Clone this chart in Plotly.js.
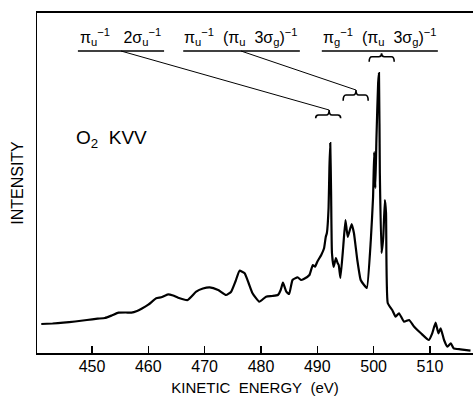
<!DOCTYPE html>
<html>
<head>
<meta charset="utf-8">
<script src="https://cdn.plot.ly/plotly-3.0.1.min.js"></script>
<style>html,body{margin:0;padding:0;background:#fff;}#chart{width:473px;height:396px;}</style>
</head>
<body>
<div id="chart"></div>
<script>
// Kinetic energy (eV) and intensity (arbitrary units)
const energy = [441.0,443.0,444.9,447.0,449.1,451.0,452.3,453.5,454.7,456.0,457.0,458.0,458.8,460.0,461.4,462.3,463.5,464.4,465.3,467.0,468.5,469.7,470.9,472.4,473.8,474.7,475.5,476.2,477.1,477.8,478.5,479.7,480.9,482.0,483.0,483.5,483.9,484.5,485.0,485.6,486.5,487.1,487.6,488.6,489.2,489.6,490.0,490.7,491.2,491.5,491.7,492.0,492.15,492.3,492.45,492.6,492.9,493.3,493.6,493.8,494.1,494.6,495.0,495.4,496.1,496.5,497.1,497.7,498.3,498.8,499.5,499.9,500.1,500.3,500.5,500.8,500.95,501.1,501.4,501.7,502.0,502.2,502.5,503.3,503.9,504.5,505.4,506.3,507.2,508.4,509.8,510.4,511.0,511.5,511.9,512.5,513.1,513.7,514.2,515.4,517.2];
const intensity = [29,29.5,30.3,31.5,33,34.3,35,37.5,40.3,40.5,40.3,42,44.3,48.3,54.7,55.7,58.7,57.5,55.3,53,61.3,64.5,65.7,63,58,61.3,72,82.3,79.7,70,59.7,51.3,56.3,57,58,63,70.3,61.3,59,73,75.7,73,74,78,88,86.3,91.3,98,104.7,116,120,145,185,210,160,100,86,95,90,88,75,106,133,116,129,120,93,73,68,65,113,156,201,165,215,270,280,180,100,115,153,140,50,43,36.3,39.7,31.3,33,26.3,19.7,13,19.7,30.3,19.7,24.7,13,6.3,9.7,4.7,3.7,2.3];

const tickVals = [450,460,470,480,490,500,510];
const tickText = ['450','460','470','480','490','500','510'];

// Assignment labels
const labelText = [
  'π<sub>u</sub><sup>−1</sup>&nbsp;&nbsp;&nbsp;2σ<sub>u</sub><sup>−1</sup>',
  'π<sub>u</sub><sup>−1</sup>&nbsp;&nbsp;(π<sub>u</sub>&nbsp;&nbsp;3σ<sub>g</sub>)<sup>−1</sup>',
  'π<sub>g</sub><sup>−1</sup>&nbsp;&nbsp;(π<sub>u</sub>&nbsp;&nbsp;3σ<sub>g</sub>)<sup>−1</sup>'
];
const labelCenter = [455.15, 476.5, 501.1];
const labelLeft = [447.5, 466.2, 490.8];
const labelRight = [462.8, 486.9, 511.4];
const labelY = 316, underlineY = 302;
// Braces: left, cusp, right energy; cusp / bar / end heights
const braceLeft = [489.71, 494.59, 499.21];
const braceMid = [492.1, 496.87, 501.41];
const braceRight = [494.15, 499.03, 503.65];
const braceCusp = [243, 263, 299.7];
const braceBar = [238, 258, 296.3];
const braceEnd = [234.7, 252.3, 291.3];
// Leader lines from label underline to brace cusp (first two labels)
const leaderFrom = [455.15, 476.45];

const font = 'Liberation Sans, Arial, Helvetica, sans-serif';
const shapes = [];
const annotations = [];
for (let i = 0; i < 3; i++) {
  annotations.push({x: labelCenter[i], y: labelY, xref: 'x', yref: 'y', text: labelText[i],
    showarrow: false, font: {family: font, size: 16, color: '#000'}, xanchor: 'center', yanchor: 'middle'});
  shapes.push({type: 'line', xref: 'x', yref: 'y', x0: labelLeft[i], x1: labelRight[i], y0: underlineY, y1: underlineY,
    line: {color: '#000', width: 1.5}});
  const d = 0.5;
  const x0 = braceLeft[i], xm = braceMid[i], x1 = braceRight[i];
  const yb = braceBar[i], yc = braceCusp[i], ye = braceEnd[i];
  const p = `M ${x0},${ye} Q ${x0},${yb} ${x0+d},${yb} L ${xm-d},${yb} Q ${xm},${yb} ${xm},${yc} Q ${xm},${yb} ${xm+d},${yb} L ${x1-d},${yb} Q ${x1},${yb} ${x1},${ye}`;
  shapes.push({type: 'path', xref: 'x', yref: 'y', path: p, line: {color: '#000', width: 1.6}});
  if (i < 2) {
    shapes.push({type: 'line', xref: 'x', yref: 'y', x0: leaderFrom[i], y0: underlineY, x1: braceMid[i], y1: braceCusp[i],
      line: {color: '#000', width: 1}});
  }
}
annotations.push({x: 453.4, y: 214, xref: 'x', yref: 'y', text: 'O<sub>2</sub>&nbsp;&nbsp;KVV', showarrow: false,
  font: {family: font, size: 19, color: '#000'}, xanchor: 'center', yanchor: 'middle'});

const trace = {x: energy, y: intensity, type: 'scatter', mode: 'lines',
  line: {color: '#000', width: 2.2, shape: 'spline', smoothing: 0.4}, hoverinfo: 'skip'};

const layout = {
  width: 473, height: 396,
  margin: {l: 37, r: 0, t: 13, b: 43},
  paper_bgcolor: '#fff', plot_bgcolor: '#fff',
  showlegend: false,
  xaxis: {range: [440.24, 517.64], showgrid: false, zeroline: false, showline: true, mirror: true,
    linecolor: '#000', linewidth: 2, ticks: 'inside', ticklen: 7, tickwidth: 1.5, tickcolor: '#000',
    tickvals: tickVals, ticktext: tickText, tickfont: {family: font, size: 16, color: '#000'}, ticklabelstandoff: -2,
    title: {text: 'KINETIC&nbsp;&nbsp;ENERGY&nbsp;&nbsp;(eV)', font: {family: font, size: 15, color: '#000'}, standoff: 8}},
  yaxis: {range: [0, 340], showgrid: false, zeroline: false, showline: true, linecolor: '#000', linewidth: 1.5,
    ticks: '', showticklabels: false,
    title: {text: 'INTENSITY', font: {family: font, size: 16, color: '#000'}, standoff: 8}},
  shapes: shapes,
  annotations: annotations
};
Plotly.newPlot('chart', [trace], layout, {displayModeBar: false, staticPlot: true});
</script>
</body>
</html>
